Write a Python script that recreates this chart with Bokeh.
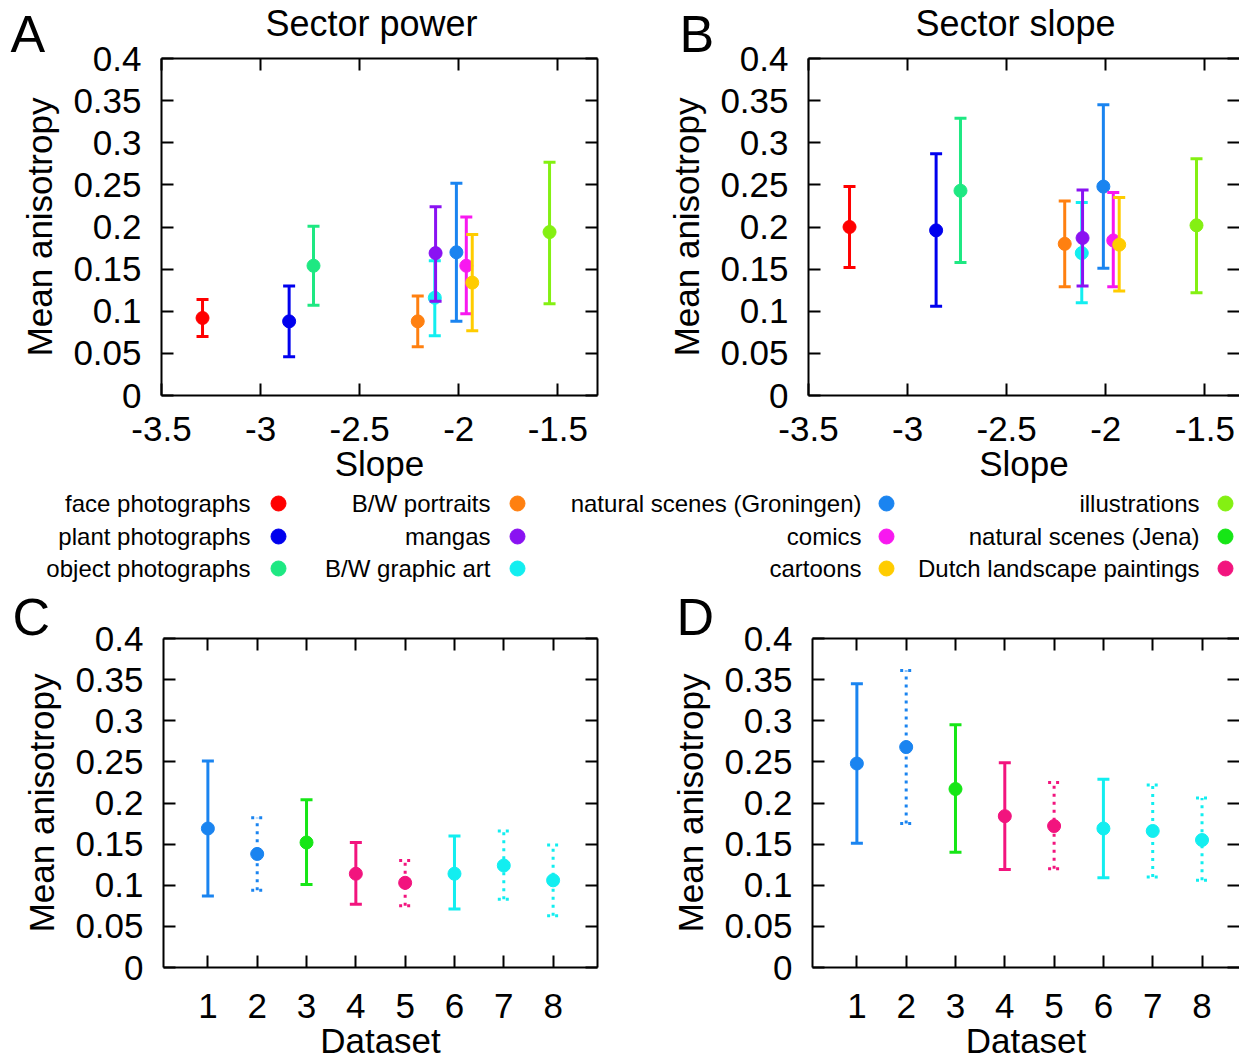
from bokeh.plotting import figure
from bokeh.layouts import column, row
from bokeh.models import Range1d, LinearAxis, FixedTicker, CustomJSTickFormatter
from bokeh.embed import file_html
from bokeh.resources import INLINE
from bokeh.core.properties import value

FONT = "Liberation Sans"

# ---------------- data ----------------
categories = ["face photographs", "plant photographs", "object photographs",
              "B/W portraits", "B/W graphic art", "mangas",
              "natural scenes (Groningen)", "comics", "cartoons", "illustrations"]
category_colors = ["#ff0000", "#0000ee", "#1ee882", "#ff8010", "#12eef0",
                   "#8a12f2", "#1a84f0", "#f818f0", "#ffcc00", "#84f012"]
slope = [-3.293, -2.856, -2.733, -2.207, -2.121, -2.117, -2.012, -1.962, -1.932, -1.542]

power_mean = [0.092, 0.088, 0.154, 0.088, 0.116, 0.169, 0.170, 0.154, 0.134, 0.194]
power_lower = [0.070, 0.046, 0.107, 0.058, 0.071, 0.112, 0.088, 0.097, 0.077, 0.109]
power_upper = [0.114, 0.130, 0.201, 0.118, 0.160, 0.224, 0.252, 0.212, 0.191, 0.277]

sslope_mean = [0.200, 0.196, 0.243, 0.180, 0.169, 0.187, 0.248, 0.184, 0.179, 0.202]
sslope_lower = [0.152, 0.106, 0.158, 0.129, 0.110, 0.130, 0.151, 0.129, 0.124, 0.122]
sslope_upper = [0.248, 0.287, 0.329, 0.231, 0.229, 0.244, 0.345, 0.241, 0.235, 0.281]

datasets = [1, 2, 3, 4, 5, 6, 7, 8]
dataset_colors = ["#1a84f0", "#1a84f0", "#16e616", "#f2147e", "#f2147e",
                  "#12eef0", "#12eef0", "#12eef0"]
dataset_dotted = [False, True, False, False, True, False, True, True]

c_mean = [0.169, 0.138, 0.152, 0.114, 0.103, 0.114, 0.124, 0.106]
c_lower = [0.087, 0.094, 0.101, 0.077, 0.075, 0.071, 0.083, 0.063]
c_upper = [0.251, 0.182, 0.204, 0.152, 0.130, 0.160, 0.166, 0.149]

d_mean = [0.248, 0.268, 0.217, 0.184, 0.172, 0.169, 0.166, 0.155]
d_lower = [0.151, 0.175, 0.140, 0.119, 0.120, 0.109, 0.110, 0.106]
d_upper = [0.345, 0.361, 0.295, 0.249, 0.225, 0.229, 0.222, 0.206]

legend_columns = [
    ["face photographs", "plant photographs", "object photographs"],
    ["B/W portraits", "mangas", "B/W graphic art"],
    ["natural scenes (Groningen)", "comics", "cartoons"],
    ["illustrations", "natural scenes (Jena)", "Dutch landscape paintings"],
]
legend_colors = [
    ["#ff0000", "#0000ee", "#1ee882"],
    ["#ff8010", "#8a12f2", "#12eef0"],
    ["#1a84f0", "#f818f0", "#ffcc00"],
    ["#84f012", "#16e616", "#f2147e"],
]

panel_letters = ["A", "B", "C", "D"]
panel_titles = ["Sector power", "Sector slope"]

y_ticks = [0, 0.05, 0.1, 0.15, 0.2, 0.25, 0.3, 0.35, 0.4]
y_tick_labels = ["0", "0.05", "0.1", "0.15", "0.2", "0.25", "0.3", "0.35", "0.4"]
slope_ticks = [-3.5, -3, -2.5, -2, -1.5]
slope_tick_labels = ["-3.5", "-3", "-2.5", "-2", "-1.5"]
dataset_ticks = [1, 2, 3, 4, 5, 6, 7, 8]
dataset_tick_labels = ["1", "2", "3", "4", "5", "6", "7", "8"]

# ---------------- helpers ----------------
def fmt(ticks, labels):
    return CustomJSTickFormatter(args=dict(t=ticks, l=labels), code="""
let b = 0;
for (let k = 0; k < t.length; k++) {
  if (Math.abs(t[k] - tick) < Math.abs(t[b] - tick)) { b = k; }
}
return l[b];
""")

def blank():
    return CustomJSTickFormatter(code="return '';")

def style_axis(ax, show_labels, show_line=True):
    ax.axis_line_width = 2
    ax.axis_line_color = "black" if show_line else None
    ax.major_tick_in = 12
    ax.major_tick_out = 0
    ax.major_tick_line_width = 2
    ax.major_tick_line_color = "black"
    ax.minor_tick_line_color = None
    ax.major_label_text_font = FONT
    ax.major_label_text_font_size = "35px" if show_labels else "0px"
    ax.major_label_text_color = "black"
    ax.axis_label_text_font = FONT
    ax.axis_label_text_font_size = "35px"
    ax.axis_label_text_font_style = "normal"
    ax.axis_label_text_color = "black"


def make_panel(w, h, xr, borders, xticks, xlabels, xlabel, right_line, tick_standoff):
    bl, br, bt, bb = borders
    p = figure(width=w, height=h, x_range=Range1d(*xr), y_range=Range1d(0, 0.4),
               x_axis_type=None, y_axis_type=None,
               output_backend="svg", toolbar_location=None,
               min_border_left=bl, min_border_right=br,
               min_border_top=bt, min_border_bottom=bb)
    p.outline_line_color = None
    p.background_fill_color = "white"
    p.border_fill_color = "white"

    left = LinearAxis(ticker=FixedTicker(ticks=y_ticks), formatter=fmt(y_ticks, y_tick_labels),
                      axis_label="Mean anisotropy")
    style_axis(left, True)
    left.major_label_standoff = 20
    left.axis_label_standoff = 11
    p.add_layout(left, "left")

    right = LinearAxis(ticker=FixedTicker(ticks=y_ticks), formatter=blank())
    style_axis(right, False, right_line)
    right.major_label_standoff = 0
    p.add_layout(right, "right")

    below = LinearAxis(ticker=FixedTicker(ticks=xticks), formatter=fmt(xticks, xlabels),
                       axis_label=xlabel)
    style_axis(below, True)
    below.major_label_standoff = tick_standoff
    below.axis_label_standoff = 0
    p.add_layout(below, "below")

    above = LinearAxis(ticker=FixedTicker(ticks=xticks), formatter=blank())
    style_axis(above, False)
    above.major_label_standoff = 0
    p.add_layout(above, "above")
    return p


def draw_bar(p, x, m, lo, hi, color, dotted):
    dash = "3 5" if dotted else "solid"
    p.segment(x0=[x], y0=[lo], x1=[x], y1=[hi], line_color=color, line_width=3, line_dash=dash)
    p.scatter(x=[x, x], y=[lo, hi], marker="dash", size=12, line_color=color,
              line_width=3, line_dash=dash)
    p.scatter(x=[x], y=[m], marker="circle", size=13, fill_color=color, line_color=color)

# ---------------- panel A ----------------
pA = make_panel(620, 530, (-3.5, -1.3), (161, 23, 58, 135), slope_ticks, slope_tick_labels,
                "Slope", True, 21)
for i in range(len(categories)):
    draw_bar(pA, slope[i], power_mean[i], power_lower[i], power_upper[i], category_colors[i], False)

# ---------------- panel B ----------------
pB = make_panel(619, 530, (-3.5, -1.325), (188, 0, 58, 135), slope_ticks, slope_tick_labels,
                "Slope", False, 21)
for i in range(len(categories)):
    draw_bar(pB, slope[i], sslope_mean[i], sslope_lower[i], sslope_upper[i], category_colors[i], False)

# ---------------- panel C ----------------
pC = make_panel(620, 532, (0.1, 8.9), (163, 23, 108, 89), dataset_ticks, dataset_tick_labels,
                "Dataset", True, 26)
for i in range(len(datasets)):
    draw_bar(pC, datasets[i], c_mean[i], c_lower[i], c_upper[i], dataset_colors[i], dataset_dotted[i])

# ---------------- panel D ----------------
pD = make_panel(619, 532, (0.1, 8.76), (192, 0, 108, 89), dataset_ticks, dataset_tick_labels,
                "Dataset", False, 26)
for i in range(len(datasets)):
    draw_bar(pD, datasets[i], d_mean[i], d_lower[i], d_upper[i], dataset_colors[i], dataset_dotted[i])

# ---------------- overlay: panel letters, titles, legend ----------------
ov = figure(width=1239, height=1062, x_range=Range1d(0, 1239), y_range=Range1d(1062, 0),
            x_axis_type=None, y_axis_type=None, output_backend="svg", toolbar_location=None,
            min_border=0, styles={"position": "absolute", "top": "0px", "left": "0px"})
ov.outline_line_color = None
ov.background_fill_alpha = 0
ov.border_fill_alpha = 0

letter_x = [10, 679, 12, 676]
letter_y = [33, 33, 616, 616]
ov.text(x=letter_x, y=letter_y, text=panel_letters, text_align="left", text_baseline="alphabetic",
        text_font=value(FONT), text_font_size="52px", text_color="black")

title_x = [371, 1015]
title_y = [23, 23]
ov.text(x=title_x, y=title_y, text=panel_titles, text_align="center", text_baseline="alphabetic",
        text_font=value(FONT), text_font_size="36px", text_color="black")

text_right = [250, 490, 861, 1199]
dot_x = [278, 517, 886, 1225]
row_y = [503, 536, 568]
for c, names in enumerate(legend_columns):
    ov.text(x=[text_right[c]] * len(names), y=row_y[:len(names)], text=names,
            text_align="right", text_baseline="middle", text_font=value(FONT),
            text_font_size="24px", text_color="black")
    ov.scatter(x=[dot_x[c]] * len(names), y=row_y[:len(names)], marker="circle", size=15,
               fill_color=legend_colors[c], line_color=legend_colors[c])

layout = column(row(pA, pB), row(pC, pD), ov)

open("out.html", "w").write(file_html(layout, INLINE))
